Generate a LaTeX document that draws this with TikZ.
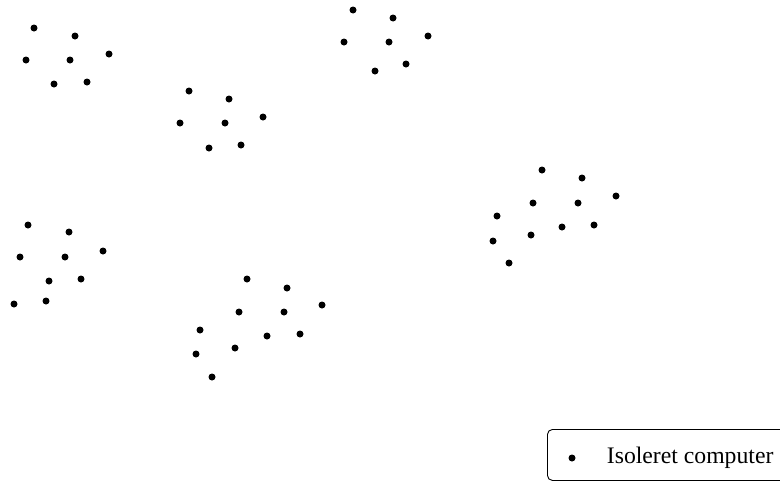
\documentclass[tikz,border=0pt]{standalone}
\usepackage{fontspec}
\setmainfont{Liberation Serif}
\usetikzlibrary{positioning}

\tikzset{
    pc/.style={circle, fill=black, inner sep=0pt, minimum size=7pt},
}

\begin{document}
\begin{tikzpicture}[x=1pt, y=-1pt]
    \useasboundingbox (0,0) rectangle (780,482);

    % groups of isolated computers
    \def\computers{34/28, 75/36, 26/60, 70/60, 109/54, 54/84, 87/82,
        189/91, 229/99, 180/123, 225/123, 263/117, 209/148, 241/145,
        353/10, 393/18, 344/42, 389/42, 428/36, 375/71, 406/64,
        542/170, 582/178, 533/203, 578/203, 616/196, 497/216, 493/241, 531/235, 562/227, 594/225, 509/263,
        28/225, 69/232, 20/257, 65/257, 103/251, 49/281, 81/279, 14/304, 46/301,
        247/279, 287/288, 239/312, 284/312, 322/305, 200/330, 196/354, 235/348, 267/336, 300/334, 212/377}
    \foreach \px/\py [count=\i] in \computers {
        \node(pc-\i)[pc] at (\px,\py) {};
    }

    % legend
    \node(legend)[draw, line width=0.9pt, rounded corners=5pt, anchor=north west,
        minimum width=260pt, minimum height=51pt] at (547,429) {};
    \node(legend-dot)[pc] at (572,458) {};
    \node(legend-text)[right=31pt of legend-dot, inner sep=0pt, font=\fontsize{23.7}{26}\selectfont]
        {Isoleret computer};

\end{tikzpicture}
\end{document}
